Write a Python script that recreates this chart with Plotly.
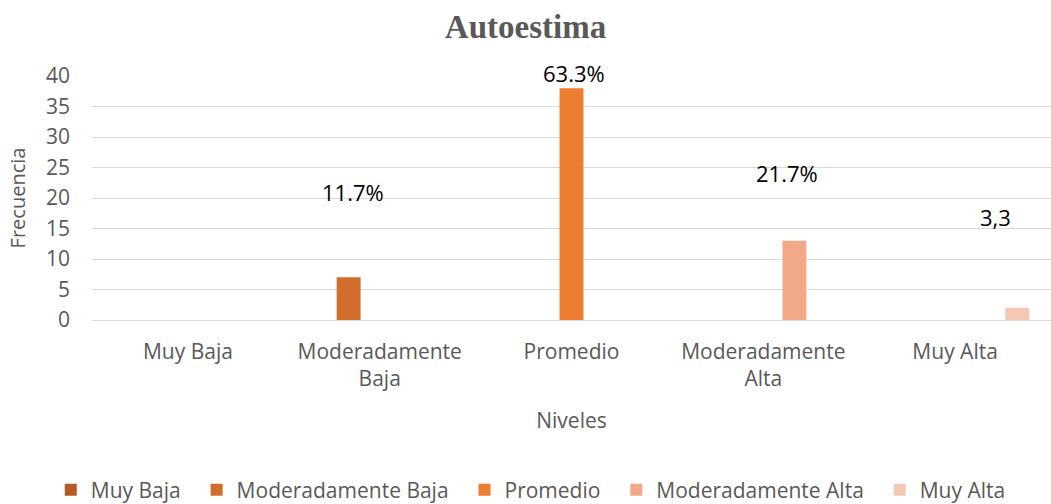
import plotly.graph_objects as go

categories = ["Muy Baja", "Moderadamente Baja", "Promedio", "Moderadamente Alta", "Muy Alta"]
tick_labels = ["Muy Baja", "Moderadamente<br>Baja", "Promedio", "Moderadamente<br>Alta", "Muy Alta"]
series_names = ["Muy Baja", "Moderadamente Baja", "Promedio", "Moderadamente Alta", "Muy Alta"]
frequencies = [0, 7, 38, 13, 2]
data_labels = ["", "11.7%", "63.3%", "21.7%", "3,3"]

colors = ["#B45A27", "#D36D2C", "#ED7D31", "#F1A98A", "#F5C8B6"]
# label placement (layout only): y in axis units, pixel shifts
label_y = [None, 21, 40, 24.1, 16.9]
label_yshift = [0, 0, 3, 0, 0]
label_xshift = [0, -27, 2, 24, 40]

NBSP = "\u00a0"
fig = go.Figure()
for i, name in enumerate(series_names):
    y = [frequencies[i] if j == i else None for j in range(len(categories))]
    pad = NBSP * 2 if i < len(series_names) - 1 else ""
    fig.add_trace(go.Bar(
        x=categories, y=y, name=name + pad,
        marker=dict(color=colors[i], line=dict(width=0)),
    ))

for i, lab in enumerate(data_labels):
    if not lab:
        continue
    fig.add_annotation(
        x=categories[i], y=label_y[i], text=lab, showarrow=False,
        xshift=label_xshift[i], yshift=label_yshift[i], yanchor="middle",
        font=dict(family="Open Sans", size=22, color="#000000"),
    )

fig.update_layout(
    width=1051, height=504,
    paper_bgcolor="white", plot_bgcolor="white",
    margin=dict(l=92, r=0, t=76, b=184, autoexpand=False),
    barmode="group", bargap=0.19, bargroupgap=0.23,
    title=dict(text="<b>Autoestima</b>", x=0.5, xanchor="center", y=1 - 26/504, yanchor="middle",
               font=dict(family="Liberation Serif", size=33, color="#595959")),
    font=dict(family="Open Sans", size=21, color="#595959"),
    showlegend=True,
    legend=dict(orientation="h", x=0.505, xanchor="center", xref="container",
                y=14/504, yanchor="middle", yref="container",
                font=dict(family="Open Sans", size=21, color="#595959"),
                itemwidth=30, traceorder="normal"),
)
fig.update_xaxes(
    tickmode="array", tickvals=categories, ticktext=tick_labels,
    showgrid=False, showline=False, zeroline=False, ticks="", automargin=False,
    ticklabelstandoff=17,
    title=dict(text="Niveles", font=dict(family="Open Sans", size=21, color="#595959"), standoff=22),
)
fig.update_yaxes(
    range=[0, 40], dtick=5, showgrid=True, gridcolor="#D9D9D9", gridwidth=1.3,
    zeroline=True, zerolinecolor="#D9D9D9", zerolinewidth=1.3, showline=False, ticks="",
    automargin=False, ticklabelstandoff=21,
    title=dict(text="Frecuencia", font=dict(family="Open Sans", size=20, color="#595959"), standoff=14),
)

fig.write_html("out.html", config={"displayModeBar": False},
               post_script="document.body.style.margin='0';")
